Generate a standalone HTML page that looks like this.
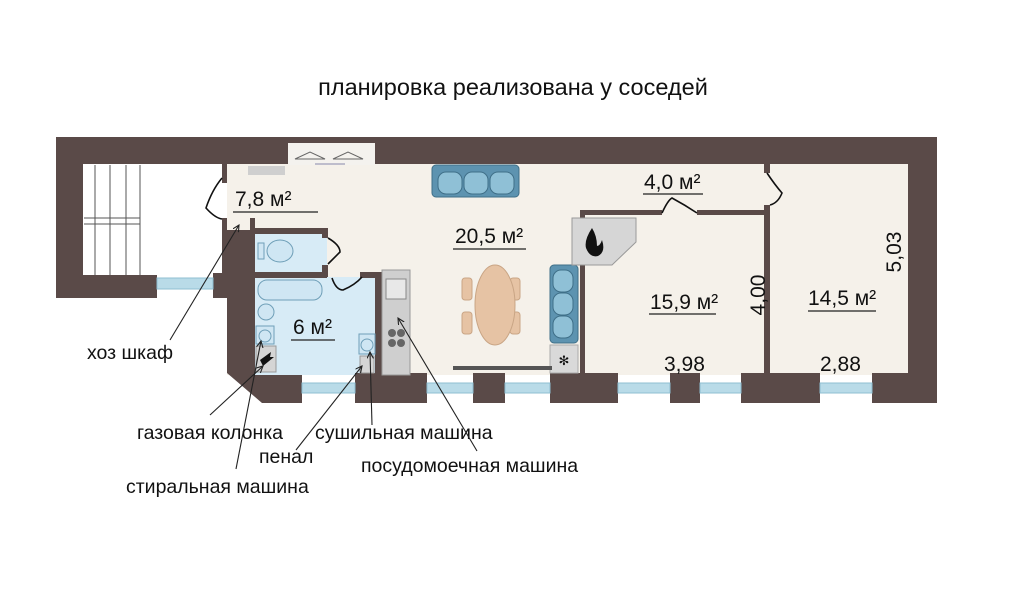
<!DOCTYPE html>
<html><head><meta charset="utf-8"><style>
html,body{margin:0;padding:0;background:#fff;width:1024px;height:595px;overflow:hidden}
svg{display:block}
text{font-family:"Liberation Sans",sans-serif;fill:#111}
</style></head><body>
<svg width="1024" height="595" viewBox="0 0 1024 595" xmlns="http://www.w3.org/2000/svg">
<defs><marker id="a" markerWidth="8" markerHeight="8" refX="6" refY="3" orient="auto"><path d="M0,0 L6,3 L0,6" fill="none" stroke="#222" stroke-width="1"/></marker></defs>
<text x="513" y="95" font-size="23.5" text-anchor="middle">планировка реализована у соседей</text>
<!-- floors -->
<rect x="227" y="163" width="685" height="212" fill="#f5f1ea"/>
<rect x="84" y="165" width="138" height="110" fill="#fff"/>
<!-- stairs -->
<g stroke="#555" stroke-width="1" fill="none">
<line x1="95" y1="165" x2="95" y2="275"/><line x1="110" y1="165" x2="110" y2="275"/><line x1="126" y1="165" x2="126" y2="275"/>
<line x1="84" y1="218" x2="140" y2="218"/><line x1="84" y1="224" x2="140" y2="224"/><line x1="140" y1="165" x2="140" y2="275"/>
</g>
<!-- bathrooms -->
<rect x="255" y="233" width="72" height="39" fill="#d7ebf6"/>
<rect x="255" y="277" width="120" height="98" fill="#d7ebf6"/>
<!-- walls -->
<g fill="#5a4a48">
<rect x="56" y="137" width="881" height="27"/>
<rect x="56" y="137" width="27" height="161"/>
<rect x="56" y="275" width="101" height="23"/>
<rect x="908" y="137" width="29" height="266"/>
<rect x="222" y="163" width="5" height="20"/>
<rect x="222" y="218" width="5" height="12"/>
<rect x="250" y="218" width="5" height="12"/>
<polygon points="222,230 255,230 255,375 302,375 302,403 262,403 227,373 227,298 213,298 213,273 222,273"/>
<rect x="255" y="228" width="72" height="6"/>
<rect x="322" y="228" width="6" height="10"/>
<rect x="322" y="265" width="6" height="12"/>
<rect x="255" y="272" width="72" height="6"/>
<rect x="360" y="272" width="22" height="6"/>
<rect x="375" y="272" width="7" height="103"/>
<rect x="355" y="373" width="72" height="30"/>
<rect x="473" y="373" width="32" height="30"/>
<rect x="550" y="373" width="68" height="30"/>
<rect x="670" y="373" width="30" height="30"/>
<rect x="741" y="373" width="79" height="30"/>
<rect x="872" y="373" width="65" height="30"/>
<rect x="580" y="210" width="82" height="5"/>
<rect x="697" y="210" width="68" height="5"/>
<rect x="580" y="210" width="5" height="165"/>
<rect x="764" y="163" width="6" height="10"/>
<rect x="764" y="205" width="6" height="170"/>
</g>
<!-- windows -->
<g fill="#b9dbe8" stroke="#8fbfd2" stroke-width="1">
<rect x="157" y="278" width="56" height="11"/>
<rect x="302" y="383" width="53" height="10"/>
<rect x="427" y="383" width="46" height="10"/>
<rect x="505" y="383" width="45" height="10"/>
<rect x="618" y="383" width="52" height="10"/>
<rect x="700" y="383" width="41" height="10"/>
<rect x="820" y="383" width="52" height="10"/>
</g>
<!-- hanger -->
<rect x="288" y="143" width="87" height="22" fill="#f4f2ee"/>
<g stroke="#666" fill="none" stroke-width="1"><path d="M295,159 L310,152 L325,159 Z"/><path d="M333,159 L348,152 L363,159 Z"/><line x1="315" y1="164" x2="345" y2="164" stroke="#88a"/></g>
<rect x="248" y="166" width="37" height="9" fill="#cfcfcf"/>
<!-- doors -->
<g stroke="#111" stroke-width="1.6" fill="none">
<path d="M222,178 Q212,190 206,208 Q215,218 222,219"/>
<path d="M328,238 Q340,245 340,252 Q332,260 328,264"/>
<path d="M332,278 Q336,290 343,290 Q355,285 362,277"/>
<path d="M662,213 Q668,200 672,198 Q685,205 697,213"/>
<path d="M767,173 Q775,185 782,193 Q778,203 770,205"/>
</g>
<!-- sofas -->
<g fill="#5d93b0" stroke="#3f6f88" stroke-width="1">
<rect x="432" y="165" width="87" height="32" rx="4"/>
<rect x="550" y="265" width="28" height="78" rx="4"/>
</g>
<g fill="#8fc0d6" stroke="#3f6f88" stroke-width="1">
<rect x="438" y="172" width="24" height="22" rx="8"/><rect x="464" y="172" width="24" height="22" rx="8"/><rect x="490" y="172" width="24" height="22" rx="8"/>
<rect x="553" y="270" width="20" height="22" rx="8"/><rect x="553" y="293" width="20" height="22" rx="8"/><rect x="553" y="316" width="20" height="22" rx="8"/>
</g>
<rect x="550" y="345" width="28" height="28" fill="#d9d9d9" stroke="#aaa"/>
<text x="564" y="365" font-size="13" text-anchor="middle" fill="#777">✻</text>
<!-- fireplace -->
<polygon points="572,218 636,218 636,242 612,265 572,265" fill="#d6d6d6" stroke="#999"/>
<path d="M592,228 Q584,240 586,248 Q590,258 598,256 Q606,252 602,240 Q600,246 597,246 Q597,236 592,228 Z" fill="#111"/>
<!-- table -->
<g fill="#e6c3a4" stroke="#c9a585">
<rect x="462" y="278" width="10" height="22" rx="3"/><rect x="462" y="312" width="10" height="22" rx="3"/>
<rect x="510" y="278" width="10" height="22" rx="3"/><rect x="510" y="312" width="10" height="22" rx="3"/>
<ellipse cx="495" cy="305" rx="20" ry="40"/>
</g>
<rect x="453" y="366" width="99" height="4" fill="#555"/>
<!-- kitchen -->
<rect x="382" y="270" width="28" height="105" fill="#cfcfcf" stroke="#999"/>
<rect x="386" y="279" width="20" height="20" fill="#e8e8e8" stroke="#888"/>
<g fill="#666"><circle cx="392" cy="333" r="4"/><circle cx="401" cy="333" r="4"/><circle cx="392" cy="343" r="4"/><circle cx="401" cy="343" r="4"/></g>
<!-- bath fixtures -->
<g fill="#cfe6f3" stroke="#6f9fb8">
<ellipse cx="280" cy="251" rx="13" ry="11"/>
<rect x="258" y="243" width="6" height="16"/>
<rect x="258" y="280" width="64" height="20" rx="9"/>
<ellipse cx="266" cy="312" rx="8" ry="8"/>
<rect x="256" y="326" width="18" height="18"/><circle cx="265" cy="336" r="6"/>
<rect x="359" y="334" width="16" height="20"/><circle cx="367" cy="345" r="6"/>
</g>
<rect x="256" y="346" width="20" height="26" fill="#d5d5d5" stroke="#999"/>
<path d="M260,360 L271,352 L270,357 L274,357 L263,366 Z" fill="#111"/>
<rect x="360" y="356" width="14" height="17" fill="#d5d5d5" stroke="#999"/>
<!-- labels -->
<g font-size="21">
<text x="235" y="206">7,8 м²</text><line x1="233" y1="212" x2="318" y2="212" stroke="#222" stroke-width="1.3"/>
<text x="455" y="243">20,5 м²</text><line x1="453" y1="249" x2="526" y2="249" stroke="#222" stroke-width="1.3"/>
<text x="644" y="189">4,0 м²</text><line x1="643" y1="194" x2="703" y2="194" stroke="#222" stroke-width="1.3"/>
<text x="293" y="334">6 м²</text><line x1="291" y1="340" x2="335" y2="340" stroke="#222" stroke-width="1.3"/>
<text x="650" y="309">15,9 м²</text><line x1="649" y1="314" x2="716" y2="314" stroke="#222" stroke-width="1.3"/>
<text x="808" y="305">14,5 м²</text><line x1="808" y1="311" x2="876" y2="311" stroke="#222" stroke-width="1.3"/>
<text x="664" y="371">3,98</text>
<text x="820" y="371">2,88</text>
<text transform="translate(765,295) rotate(-90)" text-anchor="middle">4,00</text>
<text transform="translate(901,252) rotate(-90)" text-anchor="middle">5,03</text>
</g>
<g font-size="19.5">
<text x="87" y="359">хоз шкаф</text>
<text x="137" y="439">газовая колонка</text>
<text x="315" y="439">сушильная машина</text>
<text x="259" y="463">пенал</text>
<text x="361" y="472">посудомоечная машина</text>
<text x="126" y="493">стиральная машина</text>
</g>
<g stroke="#222" stroke-width="1.1" marker-end="url(#a)">
<line x1="170" y1="340" x2="239" y2="225"/>
<line x1="210" y1="415" x2="263" y2="366"/>
<line x1="236" y1="469" x2="261" y2="341"/>
<line x1="296" y1="450" x2="362" y2="366"/>
<line x1="372" y1="425" x2="370" y2="352"/>
<line x1="477" y1="451" x2="398" y2="318"/>
</g>
</svg>
</body></html>
